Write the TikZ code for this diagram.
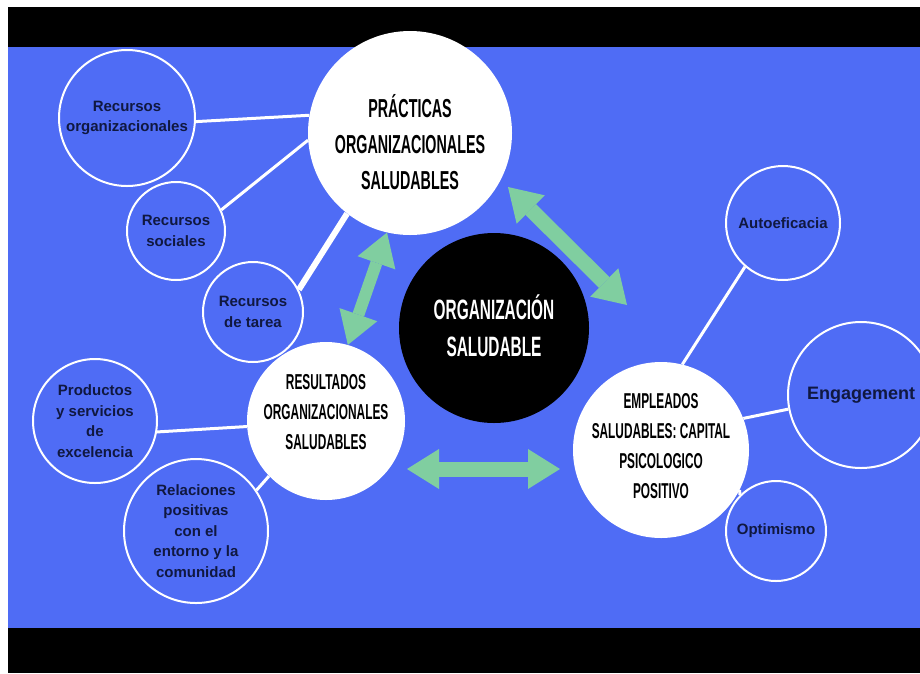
\documentclass[tikz,border=0pt]{standalone}
\usepackage{fontspec}
\setmainfont{Liberation Sans}
\newfontfamily\headfont[FakeStretch=0.55]{Liberation Sans}
\usetikzlibrary{arrows.meta}

\definecolor{bgblue}{RGB}{79,108,245}
\definecolor{mint}{RGB}{128,206,160}
\definecolor{navy}{RGB}{16,24,64}

\begin{document}
\begin{tikzpicture}[x=1pt, y=-1pt,
  bigcircle/.style={circle, fill=white, inner sep=0pt},
  headtext/.style={align=center, inner sep=0pt, text=black},
  smallcircle/.style={circle, draw=white, line width=2pt, inner sep=0pt, align=center,
    text=navy, font=\bfseries\fontsize{15}{20.5}\selectfont},
  link/.style={white, line width=3pt},
  bigarrow/.style={mint, line width=15pt, {Triangle[length=32pt, width=40pt, line width=0pt]}-{Triangle[length=32pt, width=40pt, line width=0pt]}}]

  \useasboundingbox (0,0) rectangle (920,673);
  \clip (0,0) rectangle (920,673);

  % background bands
  \fill[black] (8,7) rectangle (920,47);
  \fill[bgblue] (8,47) rectangle (920,628);
  \fill[black] (8,628) rectangle (920,673);

  % main circles
  \node[bigcircle, minimum size=204pt] (practicas) at (410,133) {};
  \node[circle, fill=black, minimum size=190pt, inner sep=0pt] (orgsal) at (494,328) {};
  \node[bigcircle, minimum size=158pt] (resultados) at (326,421) {};
  \node[bigcircle, minimum size=176pt] (empleados) at (661,450) {};

  % titles of the main circles
  \node[headtext, font=\headfont\bfseries\fontsize{26}{36}\selectfont]
    (practicastext) at ([yshift=-9pt]practicas.center) {PRÁCTICAS\\ORGANIZACIONALES\\SALUDABLES};
  \node[headtext, text=white, font=\headfont\bfseries\fontsize{28}{37}\selectfont]
    (orgsaltext) at ([yshift=2pt]orgsal.center) {ORGANIZACIÓN\\SALUDABLE};
  \node[headtext, font=\headfont\bfseries\fontsize{21.6}{30}\selectfont]
    (resultadostext) at ([yshift=9pt]resultados.center) {RESULTADOS\\ORGANIZACIONALES\\SALUDABLES};
  \node[headtext, font=\headfont\bfseries\fontsize{21.5}{30}\selectfont]
    (empleadostext) at ([yshift=4pt]empleados.center) {EMPLEADOS\\SALUDABLES: CAPITAL\\PSICOLOGICO\\POSITIVO};

  % small circles
  \node[smallcircle, minimum size=136pt] (recorg) at (127,118) {Recursos\\organizacionales};
  \node[smallcircle, minimum size=98pt] (recsoc) at (176,231) {Recursos\\sociales};
  \node[smallcircle, minimum size=100pt] (rectarea) at (253,312) {Recursos\\de tarea};
  \node[smallcircle, minimum size=124pt] (productos) at (95,421) {Productos\\y servicios\\de\\excelencia};
  \node[smallcircle, minimum size=144pt] (relaciones) at (196,531) {Relaciones\\positivas\\con el\\entorno y la\\comunidad};
  \node[smallcircle, minimum size=114pt] (autoef) at (783,223) {Autoeficacia};
  \node[smallcircle, minimum size=146pt, font=\bfseries\fontsize{18}{22}\selectfont] (engagement) at (861,395) {Engagement};
  \node[smallcircle, minimum size=100pt] (optimismo) at (776,531) {Optimismo};

  % links
  \draw[link] (recorg.-3) -- (practicas.170);
  \draw[link] (recsoc.25) -- (practicas.184);
  \draw[link, line width=6pt] (rectarea.26) -- (practicas.232);
  \draw[link] (productos.-10) -- (resultados.184);
  \draw[link] (relaciones.34) -- (resultados.224);
  \draw[link] (autoef.229) -- (empleados.76);
  \draw[link] (engagement.191) -- (empleados.21);
  \draw[link] (optimismo.135) -- (empleados.-27);

  % green arrows
  \coordinate (pe1) at (508,187);
  \coordinate (pe2) at (627,305);
  \coordinate (re1) at (407,469);
  \coordinate (re2) at (560,469);
  \draw[bigarrow, line width=12pt] (practicas.257) -- (resultados.74);
  \draw[bigarrow] (pe1) -- (pe2);
  \draw[bigarrow] (re1) -- (re2);
\end{tikzpicture}
\end{document}
